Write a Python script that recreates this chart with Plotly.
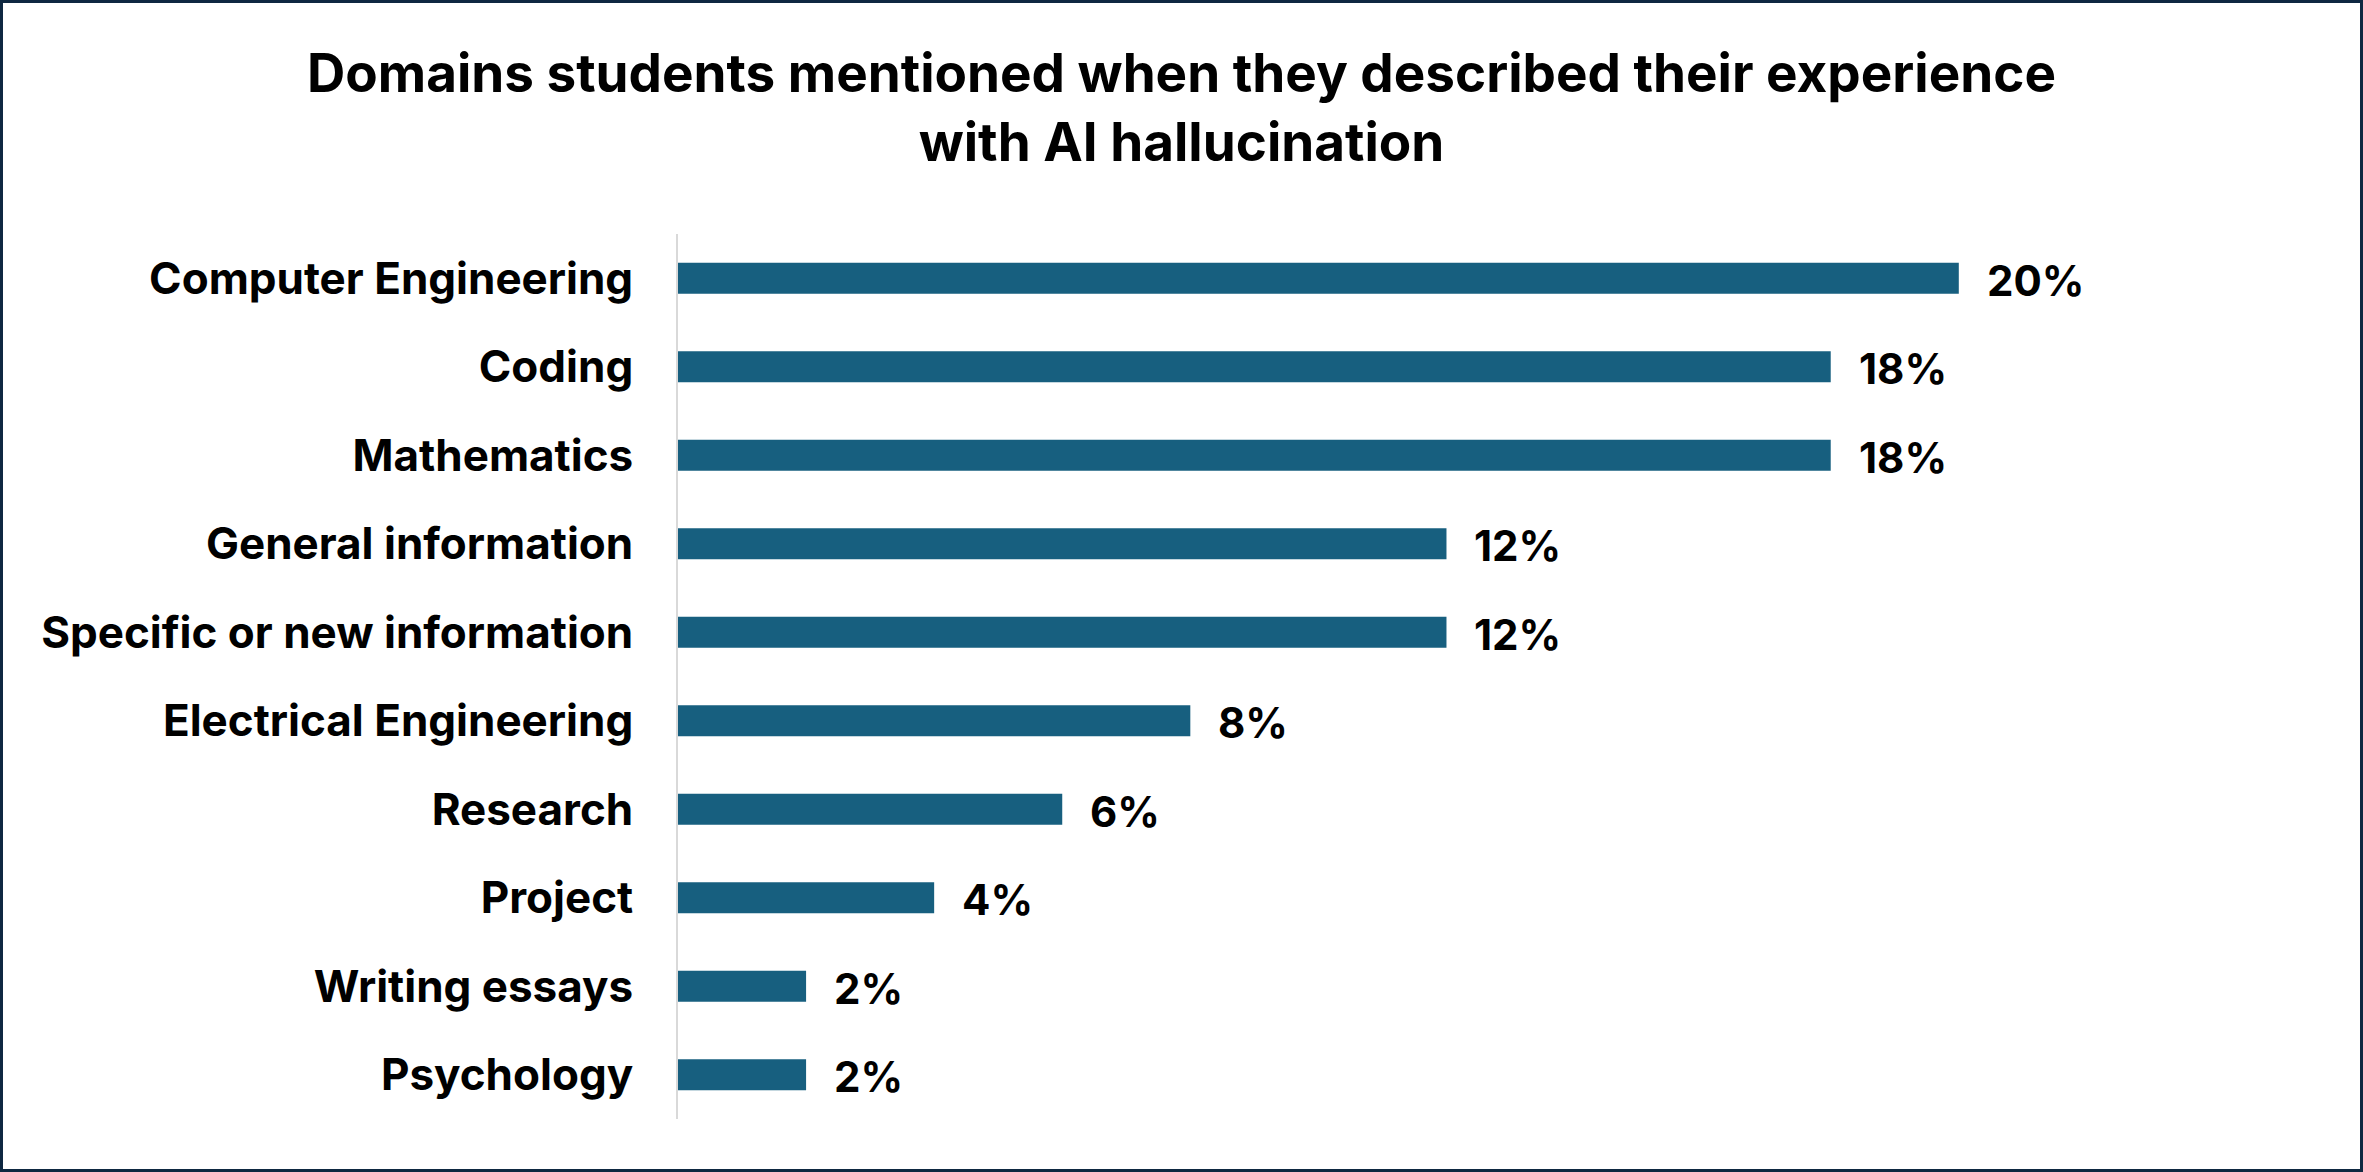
import plotly.graph_objects as go

# categories top to bottom, share of students
domains = [
    "Computer Engineering",
    "Coding",
    "Mathematics",
    "General information",
    "Specific or new information",
    "Electrical Engineering",
    "Research",
    "Project",
    "Writing essays",
    "Psychology",
]
shares = [0.20, 0.18, 0.18, 0.12, 0.12, 0.08, 0.06, 0.04, 0.02, 0.02]

W, H = 2363, 1172
ML, MR, MT, MB = 678, 84, 234, 53
FONT = "Inter"
BAR = "#175f7f"
BORDER = "#0e2841"

fig = go.Figure(
    go.Bar(
        x=shares,
        y=domains,
        orientation="h",
        marker=dict(color=BAR, line=dict(width=0)),
        width=0.35,
        hoverinfo="skip",
    )
)

# value labels just right of each bar
for d, s in zip(domains, shares):
    fig.add_annotation(
        x=s, y=d, text=f"{s:.0%}", showarrow=False,
        xanchor="left", xshift=26, yshift=-2,
        font=dict(family=FONT, size=42, color="black", weight="bold"),
    )

pw = W - ML - MR
ph = H - MT - MB
# frame around the whole picture
fig.add_shape(
    type="rect", xref="paper", yref="paper",
    x0=(-ML + 1.5) / pw, x1=1 + (MR - 1.5) / pw,
    y0=(-MB + 1.5) / ph, y1=1 + (MT - 1.5) / ph,
    line=dict(color=BORDER, width=3),
)

fig.update_layout(
    width=W, height=H,
    margin=dict(l=ML, r=MR, t=MT, b=MB),
    paper_bgcolor="white", plot_bgcolor="white",
    showlegend=False,
    title=dict(
        text="Domains students mentioned when they described their experience<br>with AI hallucination",
        x=0.5, xanchor="center", y=1 - 92 / H, yanchor="top",
        font=dict(family=FONT, size=53, color="black", weight="bold"),
    ),
    xaxis=dict(range=[0, 0.25], visible=False, fixedrange=True),
    yaxis=dict(
        autorange="reversed",
        showline=True, linecolor="#d9d9d9", linewidth=2,
        showgrid=False, ticks="", ticklabelstandoff=34,
        tickfont=dict(family=FONT, size=44, color="black", weight="bold"),
        fixedrange=True,
    ),
)

fig.write_html(
    "out.html",
    config={"displayModeBar": False},
    post_script="document.body.style.margin='0';",
)
